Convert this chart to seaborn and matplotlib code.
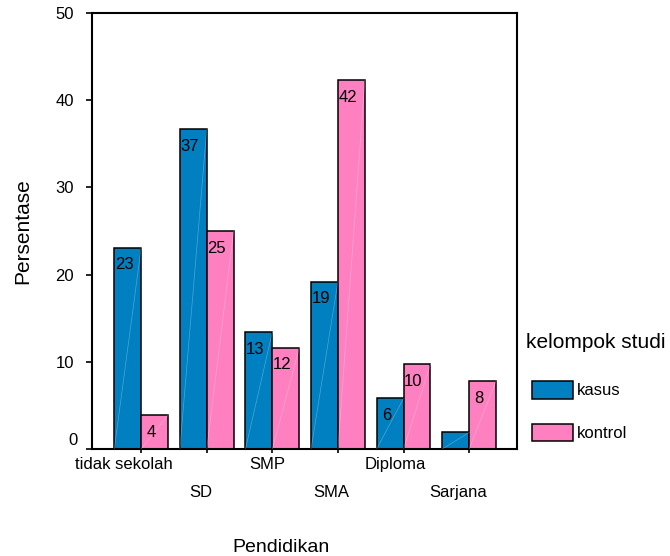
import numpy as np
import pandas as pd
import matplotlib
matplotlib.use('Agg')
import matplotlib.pyplot as plt
import matplotlib.transforms as mtransforms
from matplotlib.patches import Patch
import seaborn as sns

categories = ['tidak sekolah', 'SD', 'SMP', 'SMA', 'Diploma', 'Sarjana']
groups = ['kasus', 'kontrol']
kasus = [23.1, 36.7, 13.4, 19.2, 5.8, 1.9]
kontrol = [3.9, 25.0, 11.6, 42.3, 9.7, 7.8]
kasus_labels = ['23', '37', '13', '19', '6', '']
kontrol_labels = ['4', '25', '12', '42', '10', '8']
y_ticks = [0, 10, 20, 30, 40, 50]
colors = {'kasus': '#0080C0', 'kontrol': '#FF80C0'}

df = pd.DataFrame({
    'Pendidikan': categories * 2,
    'Persentase': kasus + kontrol,
    'kelompok studi': ['kasus'] * len(categories) + ['kontrol'] * len(categories),
})

sns.set_theme(style='white')
plt.rcParams['font.family'] = ['Liberation Sans', 'DejaVu Sans']
plt.rcParams['text.color'] = 'black'
plt.rcParams['axes.labelcolor'] = 'black'
plt.rcParams['xtick.color'] = 'black'
plt.rcParams['ytick.color'] = 'black'

fig = plt.figure(figsize=(6.7, 5.56), dpi=100)
ax = fig.add_axes([92 / 670, 1 - 449 / 556, 425 / 670, 436 / 556])

sns.barplot(data=df, x='Pendidikan', y='Persentase', hue='kelompok studi',
            order=categories, hue_order=groups, palette=colors, width=0.82,
            edgecolor='black', linewidth=1.1, saturation=1, errorbar=None,
            legend=False, ax=ax)

# faint diagonal lines and value labels
for container, labels in zip(ax.containers, [kasus_labels, kontrol_labels]):
    for bar, lab in zip(container, labels):
        x0, w, h = bar.get_x(), bar.get_width(), bar.get_height()
        ax.plot([x0, x0 + w], [0, h], color='white', lw=0.5, alpha=0.3, zorder=3)
        if lab:
            ax.annotate(lab, (x0 + 0.37 * w, h), xytext=(0, -15.5),
                        textcoords='offset points', ha='center', va='baseline',
                        fontsize=12, color='black', zorder=4)

ax.set_xlim(-0.75, 5.73)
ax.set_ylim(0, 50)
ax.set_yticks(y_ticks)
ax.set_xlabel('')
ax.set_ylabel('')

for sp in ax.spines.values():
    sp.set_visible(True)
    sp.set_color('black')
    sp.set_linewidth(1.5)

ax.tick_params(axis='x', bottom=True, direction='out', length=3, width=1.2,
               labelsize=12, pad=3, colors='black')
ax.tick_params(axis='y', left=True, direction='out', length=4.3, width=1.2,
               labelsize=12, pad=8.5, colors='black')

# staggered x tick labels
x_offsets = [-17, -6, -5, -7, -8, -11]
for i, lab in enumerate(ax.get_xticklabels()):
    dy = 28 if i % 2 else 0
    lab.set_transform(lab.get_transform() + mtransforms.ScaledTranslation(
        x_offsets[i] / 100, -dy / 100, fig.dpi_scale_trans))

ylabs = ax.get_yticklabels()
ylabs[0].set_transform(ylabs[0].get_transform() + mtransforms.ScaledTranslation(
    3 / 100, 10 / 100, fig.dpi_scale_trans))

fig.text(280.5 / 670, 1 - 547 / 556, 'Pendidikan', ha='center', va='center',
         fontsize=14, color='black')
fig.text(23 / 670, 1 - 231.5 / 556, 'Persentase', rotation=90, ha='center',
         va='center', fontsize=15, color='black')

fig.text(526 / 670, 1 - 343 / 556, 'kelompok studi', ha='left', va='center',
         fontsize=15, color='black')
handles = [Patch(facecolor=colors[g], edgecolor='black', linewidth=1.1) for g in groups]
fig.legend(handles, groups, loc='upper left', bbox_to_anchor=(532 / 670, 1 - 381 / 556),
           frameon=False, fontsize=12, handlelength=2.46, handleheight=1.26,
           labelspacing=1.5, handletextpad=0.24, borderpad=0, borderaxespad=0,
           labelcolor='black')

fig.savefig('out.png', dpi=100)
